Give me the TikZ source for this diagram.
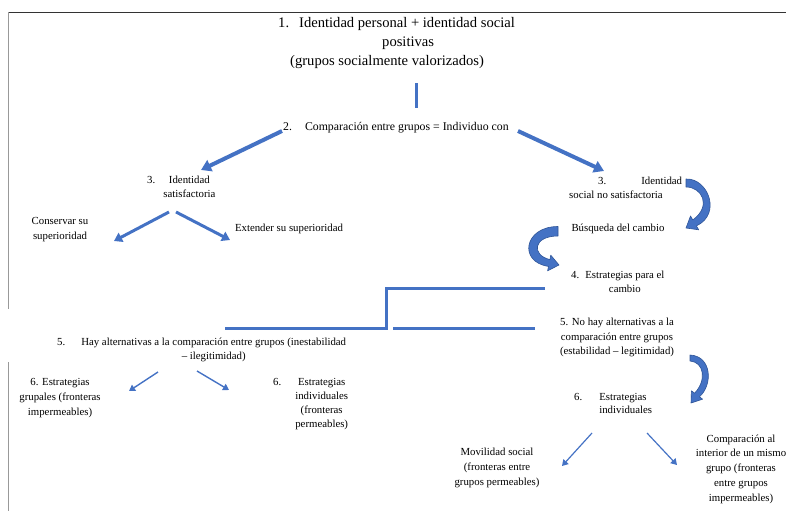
\documentclass[tikz,border=0pt]{standalone}
\usepackage{fontspec}
\setmainfont{Liberation Serif}
\usetikzlibrary{arrows.meta}
\definecolor{myblue}{HTML}{4472C4}
\definecolor{darkblue}{HTML}{2F5597}
\definecolor{framegray}{HTML}{999999}
\definecolor{framedark}{HTML}{333333}
\newcommand\fsA{\fontsize{10.8}{15}\selectfont}
\newcommand\fsB{\fontsize{10.8}{14}\selectfont}
\begin{document}
\begin{tikzpicture}[x=1pt,y=-1pt,
  txt/.style={inner sep=0pt, font=\fsA, align=center},
  tab/.style={inner sep=0pt, font=\fsB, anchor=west},
  bigarrow/.style={draw=myblue, line width=4pt, -{Triangle[width=12pt,length=10pt]}},
  midarrow/.style={draw=myblue, line width=3pt, -{Triangle[width=10pt,length=8pt]}},
  thinarrow/.style={draw=myblue, line width=1.4pt, -{Triangle[width=7pt,length=6pt]}},
  barline/.style={draw=myblue, line width=3pt},
  curvearrow/.style={fill=myblue, draw=darkblue, line width=0.6pt, line join=round}]
\useasboundingbox (0,0) rectangle (786,511);
% frame
\draw[framedark, line width=1.3pt] (8,12.5) -- (786,12.5);
\draw[framegray, line width=1pt] (8,12.5) -- (8,309);
\draw[framegray, line width=1pt] (8,362) -- (8,511);

% texts
\node[inner sep=0pt, anchor=west, align=left, font=\fontsize{14.6}{19}\selectfont] (t1) at (278,43)
  {1.\hspace*{10pt}Identidad personal + identidad social\\ \hspace*{104pt}positivas\\ \hspace*{12pt}(grupos socialmente valorizados)};
\node[inner sep=0pt, anchor=west, font=\fontsize{11.8}{14}\selectfont] (t2) at (283,128)
  {2.\hspace*{13pt}Comparación entre grupos = Individuo con};
\node[tab] (t3l) at (147,188) {\begin{tabular}{@{}l@{\hspace{8pt}}c@{}}3.&Identidad\\&satisfactoria\end{tabular}};
\node[tab, align=left] (t3r) at (569,188) {\hspace*{29pt}3.\hspace{35pt}Identidad\\social no satisfactoria};
\node[txt] (cons) at (60,230) {Conservar su\\superioridad};
\node[txt] (ext) at (289,229) {Extender su superioridad};
\node[txt] (busq) at (618,229) {Búsqueda del cambio};
\node[tab] (t4) at (571,283) {\begin{tabular}{@{}l@{\hspace{6pt}}c@{}}4.&Estrategias para el\\&cambio\end{tabular}};
\node[tab] (t5l) at (57,350) {\begin{tabular}{@{}l@{\hspace{16pt}}c@{}}5.&Hay alternativas a la comparación entre grupos (inestabilidad\\&– ilegitimidad)\end{tabular}};
\node[txt, font=\fontsize{10.8}{14.5}\selectfont] (t5r) at (617,337.5) {5. No hay alternativas a la\\comparación entre grupos\\(estabilidad – legitimidad)};
\node[txt] (t6a) at (60,398) {6. Estrategias\\grupales (fronteras\\impermeables)};
\node[tab] (t6b) at (273,404) {\begin{tabular}{@{}l@{\hspace{14pt}}c@{}}6.&Estrategias\\&individuales\\&(fronteras\\&permeables)\end{tabular}};
\node[tab, font=\fontsize{10.8}{13.5}\selectfont] (t6c) at (574,404.5) {\begin{tabular}{@{}l@{\hspace{17pt}}l@{}}6.&Estrategias\\&individuales\end{tabular}};
\node[txt] (mov) at (497,468) {Movilidad social\\(fronteras entre\\grupos permeables)};
\node[txt, font=\fontsize{10.8}{14.75}\selectfont] (comp) at (741,469) {Comparación al\\interior de un mismo\\grupo (fronteras\\entre grupos\\impermeables)};

% connector coordinates
\coordinate (v1) at (416,83);  \coordinate (v2) at (416,108);
\coordinate (a1s) at (282,131); \coordinate (a1e) at (201,170);
\coordinate (a2s) at (518,131); \coordinate (a2e) at (604,171);
\coordinate (b1s) at (169,212); \coordinate (b1e) at (114,241);
\coordinate (b2s) at (176,212); \coordinate (b2e) at (230,240);
\coordinate (c1s) at (158,372); \coordinate (c1e) at (129,391);
\coordinate (c2s) at (197,371); \coordinate (c2e) at (229,390);
\coordinate (d1s) at (592,433); \coordinate (d1e) at (562,466);
\coordinate (d2s) at (647,433); \coordinate (d2e) at (677,465);
\coordinate (s1) at (225,328); \coordinate (s2) at (386,328);
\coordinate (s3) at (386,288); \coordinate (s4) at (545,288);
\coordinate (r1) at (393,328); \coordinate (r2) at (535,328);

% connectors
\draw[barline] (v1) -- (v2);
\draw[bigarrow] (a1s) -- (a1e);
\draw[bigarrow] (a2s) -- (a2e);
\draw[midarrow] (b1s) -- (b1e);
\draw[midarrow] (b2s) -- (b2e);
\draw[thinarrow] (c1s) -- (c1e);
\draw[thinarrow] (c2s) -- (c2e);
\draw[thinarrow, line width=1.2pt] (d1s) -- (d1e);
\draw[thinarrow, line width=1.2pt] (d2s) -- (d2e);
\draw[barline, line join=miter] (s1) -- (s2) -- (s3) -- (s4);
\draw[barline] (r1) -- (r2);

% curved block arrows
\draw[curvearrow] (686,179) .. controls (708,178) and (722,214) .. (696.4,225.9)
  -- (698.7,229.8) -- (686,228) -- (690.5,216.0) -- (692.8,219.9)
  .. controls (712,206) and (702,187) .. (686,187) -- cycle;
\draw[curvearrow] (558,226.5) .. controls (524,226.5) and (518,262) .. (548.5,266.4)
  -- (547.6,270.8) -- (559,265) -- (550.8,255.2) -- (549.9,259.6)
  .. controls (531,255) and (533,236) .. (558,236) -- cycle;
\draw[curvearrow] (690,355) .. controls (712,356) and (713,385) .. (699.4,396.8)
  -- (702.6,399.2) -- (691,403) -- (691.4,390.8) -- (694.6,393.2)
  .. controls (707,380) and (704,362) .. (690,361) -- cycle;
\end{tikzpicture}
\end{document}
